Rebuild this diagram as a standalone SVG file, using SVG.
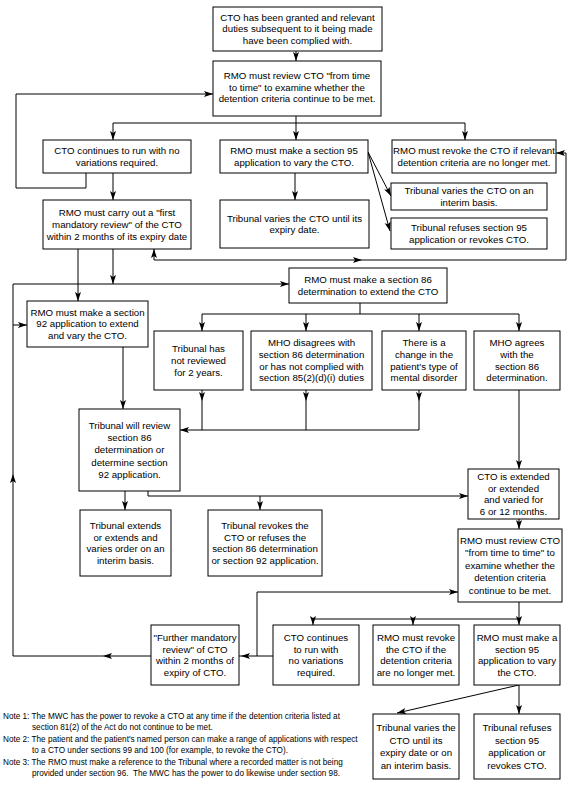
<svg xmlns="http://www.w3.org/2000/svg" xmlns:xlink="http://www.w3.org/1999/xlink" width="582" height="789" viewBox="0 0 582 789">
<style>
.b{fill:#fff;stroke:#000;stroke-width:1}
.t{font-family:"Liberation Sans",Arial,Helvetica,sans-serif;font-size:9.7px;fill:#000;text-anchor:middle}
.n{font-family:"Liberation Sans",Arial,Helvetica,sans-serif;font-size:8.2px;fill:#000}
.c{fill:none;stroke:#000;stroke-width:1}
</style>
<defs>
<path id="ah" d="M0,0 L-9,-3 L-7,0 L-9,3 Z" fill="#000"/>
</defs>
<rect width="582" height="789" fill="#fff"/>
<g id="connectors">
<path class="c" d="M296,51V61"/>
<path class="c" d="M296,116V123M113,140V123H465V140M296,123V140"/>
<path class="c" d="M86,173V188H16V94H213"/>
<path class="c" d="M113,173V200M295,173V200"/>
<path class="c" d="M368,152L391,196M368,152L390,231"/>
<path class="c" d="M154,249V260H566V153H556"/>
<path class="c" d="M78,249V301M113,249V284"/>
<path class="c" d="M13,656V284H289M13,325H27"/>
<path class="c" d="M360,303V314M202,331V314H519V331M306,314V331M419,314V331"/>
<path class="c" d="M202,390V430M306,390V430M419,390V430H180"/>
<path class="c" d="M519,390V469"/>
<path class="c" d="M123,347V409"/>
<path class="c" d="M125,491V510M148,491V496H468M260,496V510"/>
<path class="c" d="M519,519V529"/>
<path class="c" d="M273,656H239M257,656V592H458M151,656H13"/>
<path class="c" d="M519,602V619M313,625V619H519V625M413,619V625"/>
<path class="c" d="M519,685L397,713M519,685V714"/>
<use xlink:href="#ah" transform="translate(296,61) rotate(90)"/>
<use xlink:href="#ah" transform="translate(113,140) rotate(90)"/>
<use xlink:href="#ah" transform="translate(296,140) rotate(90)"/>
<use xlink:href="#ah" transform="translate(465,140) rotate(90)"/>
<use xlink:href="#ah" transform="translate(213,94)"/>
<use xlink:href="#ah" transform="translate(113,200) rotate(90)"/>
<use xlink:href="#ah" transform="translate(295,200) rotate(90)"/>
<use xlink:href="#ah" transform="translate(391,196) rotate(62.4)"/>
<use xlink:href="#ah" transform="translate(390,231) rotate(74.4)"/>
<use xlink:href="#ah" transform="translate(154,249) rotate(-90)"/>
<use xlink:href="#ah" transform="translate(362,260)"/>
<use xlink:href="#ah" transform="translate(556,153) rotate(180)"/>
<use xlink:href="#ah" transform="translate(78,301) rotate(90)"/>
<use xlink:href="#ah" transform="translate(113,284) rotate(90)"/>
<use xlink:href="#ah" transform="translate(289,284)"/>
<use xlink:href="#ah" transform="translate(27,325)"/>
<use xlink:href="#ah" transform="translate(13,474) rotate(-90)"/>
<use xlink:href="#ah" transform="translate(202,331) rotate(90)"/>
<use xlink:href="#ah" transform="translate(306,331) rotate(90)"/>
<use xlink:href="#ah" transform="translate(419,331) rotate(90)"/>
<use xlink:href="#ah" transform="translate(519,331) rotate(90)"/>
<use xlink:href="#ah" transform="translate(202,401) rotate(90)"/>
<use xlink:href="#ah" transform="translate(306,401) rotate(90)"/>
<use xlink:href="#ah" transform="translate(419,401) rotate(90)"/>
<use xlink:href="#ah" transform="translate(180,430) rotate(180)"/>
<use xlink:href="#ah" transform="translate(519,469) rotate(90)"/>
<use xlink:href="#ah" transform="translate(123,409) rotate(90)"/>
<use xlink:href="#ah" transform="translate(125,510) rotate(90)"/>
<use xlink:href="#ah" transform="translate(260,510) rotate(90)"/>
<use xlink:href="#ah" transform="translate(468,496)"/>
<use xlink:href="#ah" transform="translate(519,529) rotate(90)"/>
<use xlink:href="#ah" transform="translate(458,592)"/>
<use xlink:href="#ah" transform="translate(241,656) rotate(180)"/>
<use xlink:href="#ah" transform="translate(103,656) rotate(180)"/>
<use xlink:href="#ah" transform="translate(313,625) rotate(90)"/>
<use xlink:href="#ah" transform="translate(413,625) rotate(90)"/>
<use xlink:href="#ah" transform="translate(519,625) rotate(90)"/>
<use xlink:href="#ah" transform="translate(397,713) rotate(167.1)"/>
<use xlink:href="#ah" transform="translate(519,714) rotate(90)"/>
</g>
<g id="n1"><rect class="b" x="213" y="7" width="169" height="44"/>
<text class="t"><tspan x="297.5" y="20.7">CTO has been granted and relevant</tspan><tspan x="297.5" y="32.4">duties subsequent to it being made</tspan><tspan x="297.5" y="44.1">have been complied with.</tspan></text></g>
<g id="n2"><rect class="b" x="213" y="61" width="168" height="55"/>
<text class="t"><tspan x="297" y="79.4">RMO must review CTO "from time</tspan><tspan x="297" y="90.9">to time" to examine whether the</tspan><tspan x="297" y="102.4">detention criteria continue to be met.</tspan></text></g>
<g id="n3"><rect class="b" x="43" y="140" width="148" height="33"/>
<text class="t"><tspan x="117" y="154">CTO continues to run with no</tspan><tspan x="117" y="165.7">variations required.</tspan></text></g>
<g id="n4"><rect class="b" x="220" y="140" width="148" height="33"/>
<text class="t"><tspan x="294" y="154">RMO must make a section 95</tspan><tspan x="294" y="165.7">application to vary the CTO.</tspan></text></g>
<g id="n5"><rect class="b" x="392" y="140" width="164" height="33"/>
<text class="t"><tspan x="474" y="154">RMO must revoke the CTO if relevant</tspan><tspan x="474" y="165.7">detention criteria are no longer met.</tspan></text></g>
<g id="n6"><rect class="b" x="43" y="200" width="148" height="49"/>
<text class="t"><tspan x="117" y="216.2">RMO must carry out a "first</tspan><tspan x="117" y="227.9">mandatory review" of the CTO</tspan><tspan x="117" y="239.6">within 2 months of its expiry date</tspan></text></g>
<g id="n7"><rect class="b" x="220" y="200" width="149" height="48"/>
<text class="t"><tspan x="294.5" y="221.5">Tribunal varies the CTO until its</tspan><tspan x="294.5" y="233.2">expiry date.</tspan></text></g>
<g id="n8"><rect class="b" x="391" y="183" width="156" height="27"/>
<text class="t"><tspan x="469" y="194">Tribunal varies the CTO on an</tspan><tspan x="469" y="205.7">interim basis.</tspan></text></g>
<g id="n9"><rect class="b" x="391" y="218" width="156" height="31"/>
<text class="t"><tspan x="469" y="231">Tribunal refuses section 95</tspan><tspan x="469" y="242.7">application or revokes CTO.</tspan></text></g>
<g id="n10"><rect class="b" x="289" y="268" width="158" height="35"/>
<text class="t"><tspan x="368" y="283">RMO must make a section 86</tspan><tspan x="368" y="294.7">determination to extend the CTO</tspan></text></g>
<g id="n11"><rect class="b" x="27" y="301" width="121" height="46"/>
<text class="t"><tspan x="87.5" y="315.7">RMO must make a section</tspan><tspan x="87.5" y="327.4">92 application to extend</tspan><tspan x="87.5" y="339.1">and vary the CTO.</tspan></text></g>
<g id="n12"><rect class="b" x="154" y="331" width="89" height="59"/>
<text class="t"><tspan x="198.5" y="352.2">Tribunal has</tspan><tspan x="198.5" y="363.9">not reviewed</tspan><tspan x="198.5" y="375.6">for 2 years.</tspan></text></g>
<g id="n13"><rect class="b" x="251" y="331" width="121" height="59"/>
<text class="t"><tspan x="311.5" y="346.4">MHO disagrees with</tspan><tspan x="311.5" y="358.1">section 86 determination</tspan><tspan x="311.5" y="369.7">or has not complied with</tspan><tspan x="311.5" y="381.4">section 85(2)(d)(i) duties</tspan></text></g>
<g id="n14"><rect class="b" x="382" y="331" width="84" height="59"/>
<text class="t"><tspan x="424" y="346.4">There is a</tspan><tspan x="424" y="358.1">change in the</tspan><tspan x="424" y="369.7">patient's type of</tspan><tspan x="424" y="381.4">mental disorder</tspan></text></g>
<g id="n15"><rect class="b" x="474" y="331" width="86" height="59"/>
<text class="t"><tspan x="517" y="346.4">MHO agrees</tspan><tspan x="517" y="358.1">with the</tspan><tspan x="517" y="369.7">section 86</tspan><tspan x="517" y="381.4">determination.</tspan></text></g>
<g id="n16"><rect class="b" x="468" y="469" width="91" height="50"/>
<text class="t"><tspan x="513.5" y="479.9">CTO is extended</tspan><tspan x="513.5" y="491.6">or extended</tspan><tspan x="513.5" y="503.3">and varied for</tspan><tspan x="513.5" y="515">6 or 12 months.</tspan></text></g>
<g id="n17"><rect class="b" x="79" y="409" width="101" height="82"/>
<text class="t"><tspan x="129.5" y="428.8">Tribunal will review</tspan><tspan x="129.5" y="441.1">section 86</tspan><tspan x="129.5" y="453.4">determination or</tspan><tspan x="129.5" y="465.7">determine section</tspan><tspan x="129.5" y="478">92 application.</tspan></text></g>
<g id="n18"><rect class="b" x="80" y="510" width="91" height="66"/>
<text class="t"><tspan x="125.5" y="528.9">Tribunal extends</tspan><tspan x="125.5" y="540.6">or extends and</tspan><tspan x="125.5" y="552.3">varies order on an</tspan><tspan x="125.5" y="564">interim basis.</tspan></text></g>
<g id="n19"><rect class="b" x="208" y="510" width="114" height="66"/>
<text class="t"><tspan x="265" y="528.9">Tribunal revokes the</tspan><tspan x="265" y="540.6">CTO or refuses the</tspan><tspan x="265" y="552.3">section 86 determination</tspan><tspan x="265" y="564">or section 92 application.</tspan></text></g>
<g id="n20"><rect class="b" x="458" y="529" width="104" height="73"/>
<text class="t"><tspan x="510" y="543.9">RMO must review CTO</tspan><tspan x="510" y="556.4">"from time to time" to</tspan><tspan x="510" y="568.9">examine whether the</tspan><tspan x="510" y="581.4">detention criteria</tspan><tspan x="510" y="593.9">continue to be met.</tspan></text></g>
<g id="n21"><rect class="b" x="151" y="625" width="88" height="60"/>
<text class="t"><tspan x="195" y="640.9">"Further mandatory</tspan><tspan x="195" y="652.6">review" of CTO</tspan><tspan x="195" y="664.3">within 2 months of</tspan><tspan x="195" y="676">expiry of CTO.</tspan></text></g>
<g id="n22"><rect class="b" x="273" y="625" width="86" height="60"/>
<text class="t"><tspan x="316" y="640.9">CTO continues</tspan><tspan x="316" y="652.6">to run with</tspan><tspan x="316" y="664.3">no variations</tspan><tspan x="316" y="676">required.</tspan></text></g>
<g id="n23"><rect class="b" x="373" y="625" width="86" height="60"/>
<text class="t"><tspan x="416" y="640.9">RMO must revoke</tspan><tspan x="416" y="652.6">the CTO if the</tspan><tspan x="416" y="664.3">detention criteria</tspan><tspan x="416" y="676">are no longer met.</tspan></text></g>
<g id="n24"><rect class="b" x="474" y="625" width="86" height="60"/>
<text class="t"><tspan x="517" y="640.9">RMO must make a</tspan><tspan x="517" y="652.6">section 95</tspan><tspan x="517" y="664.3">application to vary</tspan><tspan x="517" y="676">the CTO.</tspan></text></g>
<g id="n25"><rect class="b" x="373" y="714" width="86" height="65"/>
<text class="t"><tspan x="416" y="731.2">Tribunal varies the</tspan><tspan x="416" y="743.7">CTO until its</tspan><tspan x="416" y="756.2">expiry date or on</tspan><tspan x="416" y="768.7">an interim basis.</tspan></text></g>
<g id="n26"><rect class="b" x="474" y="714" width="86" height="65"/>
<text class="t"><tspan x="517" y="731.2">Tribunal refuses</tspan><tspan x="517" y="743.7">section 95</tspan><tspan x="517" y="756.2">application or</tspan><tspan x="517" y="768.7">revokes CTO.</tspan></text></g>
<g id="notes">
<text class="n" x="3" y="719">Note 1: The MWC has the power to revoke a CTO at any time if the detention criteria listed at</text>
<text class="n" x="32" y="729.5">section 81(2) of the Act do not continue to be met.</text>
<text class="n" x="3" y="742">Note 2: The patient and the patient's named person can make a range of applications with respect</text>
<text class="n" x="32" y="752.5">to a CTO under sections 99 and 100 (for example, to revoke the CTO).</text>
<text class="n" x="3" y="765">Note 3: The RMO must make a reference to the Tribunal where a recorded matter is not being</text>
<text class="n" x="32" y="775.5">provided under section 96.&#160; The MWC has the power to do likewise under section 98.</text>
</g>
</svg>
